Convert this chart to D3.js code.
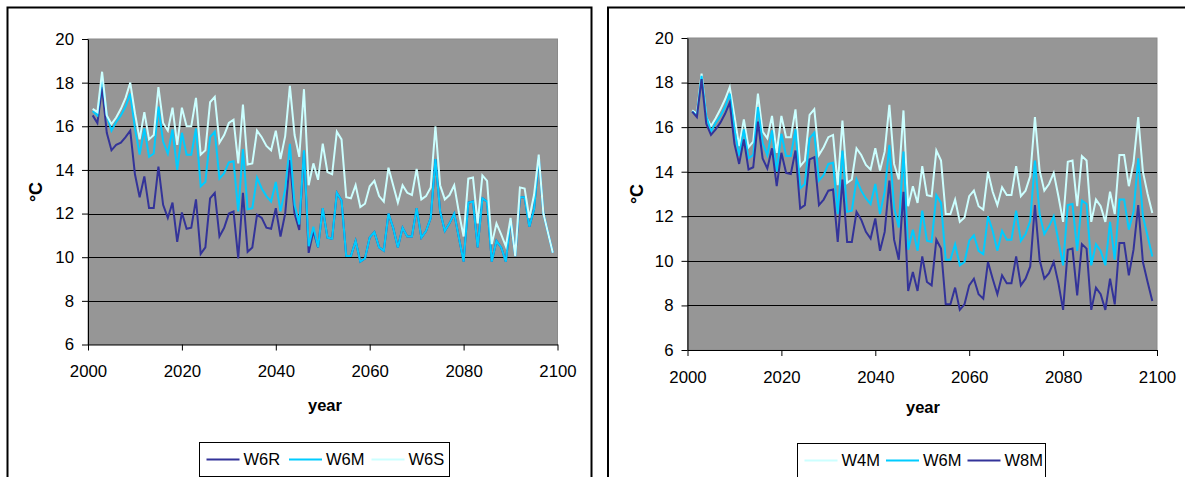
<!DOCTYPE html>
<html>
<head>
<meta charset="utf-8">
<script src="https://cdn.jsdelivr.net/npm/d3@7"></script>
<style>
    body { margin: 0; background: #fff; }
    svg { display: block; font-family: "Liberation Sans", Arial, sans-serif; }
    .tick text { font-size: 16.8px; fill: #000; }
</style>
</head>
<body>
<div id="chart"></div>
<script>
// years on the x axis (one value per year)
const years = d3.range(2001, 2100);
const xTicks = [2000, 2020, 2040, 2060, 2080, 2100];
const yTicks = [6, 8, 10, 12, 14, 16, 18, 20];
const gridValues = [8, 10, 12, 14, 16, 18];

// series values (2001 .. 2099)
const w6r = [16.5, 16.15, 17.8, 15.7, 14.9, 15.15, 15.25, 15.5, 15.8, 13.8,
    12.75, 13.7, 12.25, 12.25, 14.15, 12.4, 11.8, 12.5, 10.7, 12.05,
    11.3, 11.35, 12.65, 10.15, 10.45, 12.7, 12.95, 10.95, 11.35, 12.0,
    12.1, 9.95, 12.95, 10.25, 10.45, 11.95, 11.8, 11.35, 11.3, 12.25,
    10.95, 12.0, 14.45, 12.0, 11.25, 14.85, 10.2, 11.2, 10.45, 12.25,
    10.9, 10.85, 12.95, 12.6, 10.05, 10.05, 10.75, 9.8, 9.95, 10.9,
    11.15, 10.45, 10.3, 12.0, 11.35, 10.45, 11.35, 10.95, 10.95, 12.25,
    10.9, 11.2, 11.8, 14.5, 12.1, 11.2, 11.55, 12.0, 10.9, 9.8,
    12.5, 12.55, 10.45, 12.7, 12.55, 9.8, 10.75, 10.45, 9.8, 11.75,
    10.05, 12.75, 12.75, 11.4, 12.2, 14.6, 12.0, 11.1, 10.2];

const w6m = [16.7, 16.5, 18.3, 16.5, 15.8, 16.2, 16.5, 16.9, 17.5, 15.9,
    14.7, 15.9, 14.6, 14.75, 16.9, 15.3, 14.75, 15.85, 14.0, 15.7,
    14.7, 14.7, 15.9, 13.25, 13.45, 15.5, 15.75, 13.6, 13.85, 14.35,
    14.4, 12.1, 14.95, 12.2, 12.25, 13.65, 13.15, 12.8, 12.55, 13.45,
    12.1, 13.1, 15.2, 12.4, 11.5, 14.9, 10.5, 11.4, 10.45, 12.25,
    10.9, 10.85, 12.95, 12.6, 10.05, 10.05, 10.75, 9.8, 9.95, 10.9,
    11.15, 10.45, 10.3, 12.0, 11.35, 10.45, 11.35, 10.95, 10.95, 12.25,
    10.9, 11.2, 11.8, 14.5, 12.1, 11.2, 11.55, 12.0, 10.9, 9.8,
    12.5, 12.55, 10.45, 12.7, 12.55, 9.8, 10.75, 10.45, 9.8, 11.75,
    10.05, 12.75, 12.75, 11.4, 12.2, 14.6, 12.0, 11.1, 10.2];

const w6s = [16.8, 16.65, 18.5, 16.5, 16.1, 16.4, 16.8, 17.3, 18.0, 16.6,
    15.4, 16.65, 15.4, 15.6, 17.8, 16.15, 15.8, 16.85, 15.15, 16.85,
    16.0, 16.0, 17.3, 14.7, 14.9, 17.1, 17.35, 15.25, 15.6, 16.15,
    16.3, 14.3, 17.0, 14.25, 14.3, 15.8, 15.5, 15.1, 14.9, 15.8,
    14.5, 15.55, 17.85, 15.6, 14.6, 17.7, 13.3, 14.3, 13.55, 15.2,
    13.9, 13.8, 15.75, 15.4, 12.75, 12.7, 13.3, 12.3, 12.45, 13.25,
    13.5, 12.8, 12.55, 14.1, 13.3, 12.5, 13.3, 12.95, 12.85, 14.05,
    12.65, 12.8, 13.2, 16.0, 13.3, 12.65, 12.85, 13.3, 12.05, 10.95,
    13.6, 13.65, 11.55, 13.75, 13.5, 10.6, 11.55, 11.05, 10.5, 11.8,
    10.05, 13.2, 13.15, 11.8, 12.85, 14.7, 12.0, 11.1, 10.2];

const w4m = [16.75, 16.6, 18.4, 16.45, 16.05, 16.4, 16.8, 17.25, 17.8, 16.5,
    15.15, 16.35, 15.1, 15.35, 17.5, 15.8, 15.5, 16.5, 14.85, 16.5,
    15.55, 15.55, 16.8, 14.25, 14.5, 16.55, 16.8, 14.75, 15.1, 15.55,
    15.65, 13.4, 16.3, 13.5, 13.65, 15.05, 14.75, 14.3, 14.1, 15.05,
    14.05, 14.9, 17.0, 14.35, 13.65, 16.75, 12.45, 13.35, 12.6, 14.25,
    12.95, 12.9, 14.95, 14.5, 12.1, 12.1, 12.75, 11.75, 11.95, 12.9,
    13.15, 12.45, 12.3, 14.0, 13.1, 12.5, 13.3, 12.95, 12.95, 14.25,
    12.9, 13.15, 13.8, 16.45, 14.05, 13.15, 13.45, 13.95, 12.9, 11.75,
    14.45, 14.5, 12.45, 14.7, 14.5, 11.75, 12.75, 12.45, 11.75, 13.1,
    12.1, 14.75, 14.75, 13.35, 14.4, 16.45, 14.0, 13.0, 12.15];

const w8m = [16.7, 16.45, 18.15, 16.15, 15.65, 15.9, 16.2, 16.6, 17.1, 15.25,
    14.35, 15.45, 14.1, 14.2, 16.25, 14.6, 14.15, 15.05, 13.35, 14.85,
    13.95, 13.9, 14.95, 12.35, 12.5, 14.55, 14.65, 12.5, 12.75, 13.15,
    13.2, 10.85, 13.65, 10.85, 10.85, 12.2, 11.85, 11.3, 11.0, 11.9,
    10.45, 11.3, 13.6, 10.95, 10.05, 13.1, 8.65, 9.5, 8.65, 10.2,
    9.05, 8.9, 10.95, 10.55, 8.05, 8.05, 8.8, 7.8, 8.05, 8.9,
    9.2, 8.5, 8.3, 9.95, 9.2, 8.5, 9.35, 9.0, 9.0, 10.2,
    8.9, 9.2, 9.75, 12.5, 10.05, 9.2, 9.45, 9.95, 9.0, 7.8,
    10.5, 10.55, 8.45, 10.75, 10.55, 7.8, 8.8, 8.5, 7.8, 9.2,
    8.05, 10.8, 10.8, 9.35, 10.5, 12.5, 9.95, 9.05, 8.2];

const colDark = "#333399", colMid = "#00ccff", colLight = "#ccffff";

// panel layouts
const panels = [
    {
        frame: {x: 7.5, y: 7.5, w: 584, h: 500},
        plot: {left: 88, top: 39, right: 557.5, bottom: 344.5},
        yLabel: {x: 36, y: 192},
        xLabel: {x: 325, y: 411},
        legend: {x: 199.5, y: 442.5, w: 250, h: 34, step: 82.5},
        series: [
            {name: "W6R", values: w6r, color: colDark},
            {name: "W6M", values: w6m, color: colMid},
            {name: "W6S", values: w6s, color: colLight}
        ]
    },
    {
        frame: {x: 608, y: 7.5, w: 600, h: 500},
        plot: {left: 687.5, top: 38, right: 1157, bottom: 350},
        yLabel: {x: 637, y: 194},
        xLabel: {x: 923, y: 413},
        legend: {x: 797.5, y: 443.5, w: 248, h: 34, step: 81.5},
        series: [
            {name: "W4M", values: w4m, color: colLight},
            {name: "W6M", values: w6m, color: colMid},
            {name: "W8M", values: w8m, color: colDark}
        ]
    }
];

const svg = d3.select("#chart").append("svg")
    .attr("width", 1185)
    .attr("height", 477);

panels.forEach(drawPanel);

function drawPanel(p) {
    let g = svg.append("g");

    // outer chart frame
    g.append("rect")
        .attr("x", p.frame.x).attr("y", p.frame.y)
        .attr("width", p.frame.w).attr("height", p.frame.h)
        .attr("fill", "#fff")
        .attr("stroke", "#000")
        .attr("stroke-width", 2);

    let x = d3.scaleLinear().domain([2000, 2100]).range([p.plot.left, p.plot.right]);
    let y = d3.scaleLinear().domain([6, 20]).range([p.plot.bottom, p.plot.top]);

    // plot area
    g.append("rect")
        .attr("x", p.plot.left).attr("y", p.plot.top)
        .attr("width", p.plot.right - p.plot.left)
        .attr("height", p.plot.bottom - p.plot.top)
        .attr("fill", "#969696")
        .attr("stroke", "#8a8a8a")
        .attr("stroke-width", 1);

    // gridlines
    g.selectAll(".grid")
        .data(gridValues)
        .enter()
        .append("line")
        .attr("class", "grid")
        .attr("x1", p.plot.left).attr("x2", p.plot.right)
        .attr("y1", d => Math.round(y(d)) + 0.5)
        .attr("y2", d => Math.round(y(d)) + 0.5)
        .attr("stroke", "#000")
        .attr("stroke-width", 1);

    // axes
    g.append("g")
        .attr("transform", `translate(${p.plot.left},0)`)
        .call(d3.axisLeft(y).tickValues(yTicks).tickSize(6).tickSizeOuter(0).tickPadding(8))
        .call(a => a.selectAll("line, path").attr("stroke", "#000"));

    g.append("g")
        .attr("transform", `translate(0,${p.plot.bottom})`)
        .call(d3.axisBottom(x).tickValues(xTicks).tickFormat(d3.format("d")).tickSize(6).tickSizeOuter(0).tickPadding(15))
        .call(a => a.selectAll("line, path").attr("stroke", "#000"));

    // series lines
    let line = d3.line()
        .x((d, i) => x(years[i]))
        .y(d => y(d));

    g.selectAll(".series")
        .data(p.series)
        .enter()
        .append("path")
        .attr("class", "series")
        .attr("d", d => line(d.values))
        .attr("fill", "none")
        .attr("stroke", d => d.color)
        .attr("stroke-width", 2)
        .attr("stroke-linejoin", "miter");

    // axis titles
    g.append("text")
        .attr("transform", `translate(${p.yLabel.x},${p.yLabel.y}) rotate(-90)`)
        .attr("text-anchor", "middle")
        .attr("dy", "0.35em")
        .style("font-size", "18px")
        .style("font-weight", "bold")
        .text("°C");

    g.append("text")
        .attr("x", p.xLabel.x).attr("y", p.xLabel.y)
        .attr("text-anchor", "middle")
        .style("font-size", "16.5px")
        .style("font-weight", "bold")
        .text("year");

    // legend
    let lg = g.append("g")
        .attr("transform", `translate(${p.legend.x},${p.legend.y})`);

    lg.append("rect")
        .attr("width", p.legend.w).attr("height", p.legend.h)
        .attr("fill", "#fff")
        .attr("stroke", "#000")
        .attr("stroke-width", 1);

    let item = lg.selectAll(".legend-item")
        .data(p.series)
        .enter()
        .append("g")
        .attr("class", "legend-item")
        .attr("transform", (d, i) => `translate(${7 + i * p.legend.step},${p.legend.h / 2})`);

    item.append("line")
        .attr("x1", 0).attr("x2", 33)
        .attr("stroke", d => d.color)
        .attr("stroke-width", 2);

    item.append("text")
        .attr("x", 37)
        .attr("dy", "0.35em")
        .style("font-size", "16.5px")
        .text(d => d.name);
}
</script>
</body>
</html>
